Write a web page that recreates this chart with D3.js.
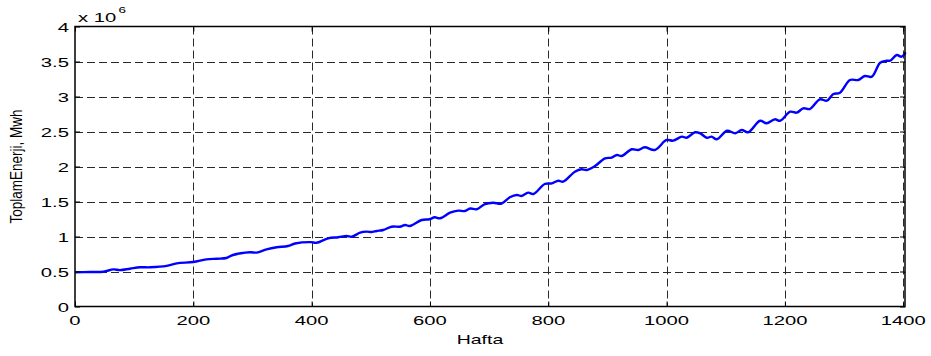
<!DOCTYPE html>
<html>
<head>
<meta charset="utf-8">
<script src="https://cdn.jsdelivr.net/npm/d3@7"></script>
<style>
  html, body { margin: 0; padding: 0; background: #fff; }
  svg { display: block; }
  text { font-family: Arial, "Liberation Sans", sans-serif; fill: #000; }
</style>
</head>
<body>
<svg id="chart" width="931" height="356"></svg>
<script>
// Weekly total energy (units of 1e6 MWh)
const weeks = [0, 25, 48, 65, 76, 93, 110, 127, 155, 172, 200, 222, 240, 256, 267, 296, 307, 324, 341, 360,
  372, 399, 408, 428, 445, 459, 468, 482, 493, 501, 510, 521, 535, 549, 558, 566, 586, 599, 608, 617,
  634, 648, 659, 668, 679, 693, 707, 721, 735, 747, 755, 766, 775, 794, 806, 817, 825, 845, 856, 865,
  879, 896, 907, 916, 924, 941, 952, 963, 980, 1000, 1011, 1026, 1034, 1048, 1057, 1068, 1076, 1085,
  1102, 1116, 1127, 1138, 1158, 1169, 1183, 1192, 1209, 1220, 1231, 1242, 1259, 1271, 1282, 1293,
  1310, 1324, 1335, 1347, 1361, 1372, 1378, 1389, 1397, 1404];
const energy = [0.49, 0.493, 0.497, 0.53, 0.52, 0.54, 0.56, 0.56, 0.58, 0.617, 0.636, 0.674, 0.683, 0.693, 0.736, 0.774, 0.77, 0.817, 0.846, 0.864,
  0.90, 0.92, 0.91, 0.974, 0.989, 1.007, 0.997, 1.054, 1.069, 1.064, 1.079, 1.093, 1.14, 1.14, 1.164, 1.15, 1.236, 1.246, 1.274, 1.26,
  1.34, 1.369, 1.364, 1.40, 1.389, 1.464, 1.483, 1.47, 1.56, 1.593, 1.579, 1.626, 1.607, 1.75, 1.76, 1.797, 1.783, 1.926, 1.96, 1.95,
  2.007, 2.117, 2.126, 2.164, 2.15, 2.246, 2.236, 2.274, 2.236, 2.379, 2.369, 2.426, 2.411, 2.489, 2.474, 2.41, 2.426, 2.389,
  2.511, 2.474, 2.521, 2.489, 2.654, 2.617, 2.674, 2.654, 2.783, 2.769, 2.831, 2.821, 2.96, 2.94, 3.036, 3.054,
  3.236, 3.236, 3.293, 3.283, 3.483, 3.511, 3.511, 3.593, 3.569, 3.631];
const xTicks = [0, 200, 400, 600, 800, 1000, 1200, 1400];
const yTicks = [0, 0.5, 1, 1.5, 2, 2.5, 3, 3.5, 4];
const xTitle = "Hafta";
const yTitle = "ToplamEnerji, Mwh";

const svg = d3.select("#chart");
const L = 75, R = 905, T = 26.5, B = 306.5;
const SX = 1.5; // horizontal stretch of the text glyphs

const x = d3.scaleLinear().domain([0, 1403]).range([L, R]);
const y = d3.scaleLinear().domain([0, 4]).range([B, T]);

// dashed grid
const grid = svg.append("g").attr("stroke", "#2a2a2a").attr("stroke-width", 1).attr("fill", "none");
grid.selectAll("line.v").data(xTicks.filter(d => d > 0)).join("line")
  .attr("x1", d => Math.round(x(d)) + 0.5).attr("x2", d => Math.round(x(d)) + 0.5)
  .attr("y1", T).attr("y2", B).attr("stroke-dasharray", "8,4");
grid.selectAll("line.h").data(yTicks.filter(d => d > 0 && d < 4)).join("line")
  .attr("y1", d => Math.round(y(d)) + 0.5).attr("y2", d => Math.round(y(d)) + 0.5)
  .attr("x1", L).attr("x2", R).attr("stroke-dasharray", "8,4");

// series line
const line = d3.line().x((d, i) => x(weeks[i])).y(d => y(d)).curve(d3.curveCatmullRom.alpha(0.5));
svg.append("path").datum(energy).attr("d", line)
  .attr("fill", "none").attr("stroke", "#0000ff").attr("stroke-width", 2.4).attr("stroke-linejoin", "round");

// axes with inward ticks on all four sides
const tk = 5;
svg.append("g").attr("transform", `translate(0,${B})`)
  .call(d3.axisBottom(x).tickValues(xTicks).tickSize(-tk).tickFormat(""))
  .call(g => g.select(".domain").remove());
svg.append("g").attr("transform", `translate(0,${T})`)
  .call(d3.axisTop(x).tickValues(xTicks).tickSize(-tk).tickFormat(""))
  .call(g => g.select(".domain").remove());
svg.append("g").attr("transform", `translate(${L},0)`)
  .call(d3.axisLeft(y).tickValues(yTicks).tickSize(-tk).tickFormat(""))
  .call(g => g.select(".domain").remove());
svg.append("g").attr("transform", `translate(${R},0)`)
  .call(d3.axisRight(y).tickValues(yTicks).tickSize(-tk).tickFormat(""))
  .call(g => g.select(".domain").remove());
svg.selectAll(".tick line").attr("stroke", "#000");

svg.append("rect").attr("x", L).attr("y", T).attr("width", R - L).attr("height", B - T)
  .attr("fill", "none").attr("stroke", "#000").attr("stroke-width", 1.5);

// tick labels
const fs = 13.5;
xTicks.forEach(d => {
  svg.append("g").attr("transform", `translate(${x(d)},${B + 18}) scale(${SX},1)`)
    .append("text").attr("text-anchor", "middle").attr("font-size", fs).text(d);
});
yTicks.forEach(d => {
  svg.append("g").attr("transform", `translate(${L - 6},${y(d) + 5}) scale(${SX},1)`)
    .append("text").attr("text-anchor", "end").attr("font-size", fs).text(d3.format("")(d));
});

// exponent label
const ex = svg.append("g").attr("transform", `translate(${L + 3},${T - 5}) scale(${SX},1)`);
ex.append("text").attr("font-size", fs).text("x 10");
ex.append("text").attr("font-size", 9).attr("x", 27).attr("y", -9).text("6");

// axis titles
svg.append("g").attr("transform", `translate(480,${B + 37}) scale(${SX},1)`)
  .append("text").attr("text-anchor", "middle").attr("font-size", 13).text(xTitle);
svg.append("g").attr("transform", `translate(22,${(T + B) / 2}) scale(1.2,1) rotate(-90)`)
  .append("text").attr("text-anchor", "middle").attr("font-size", 13.5).text(yTitle);
</script>
</body>
</html>
